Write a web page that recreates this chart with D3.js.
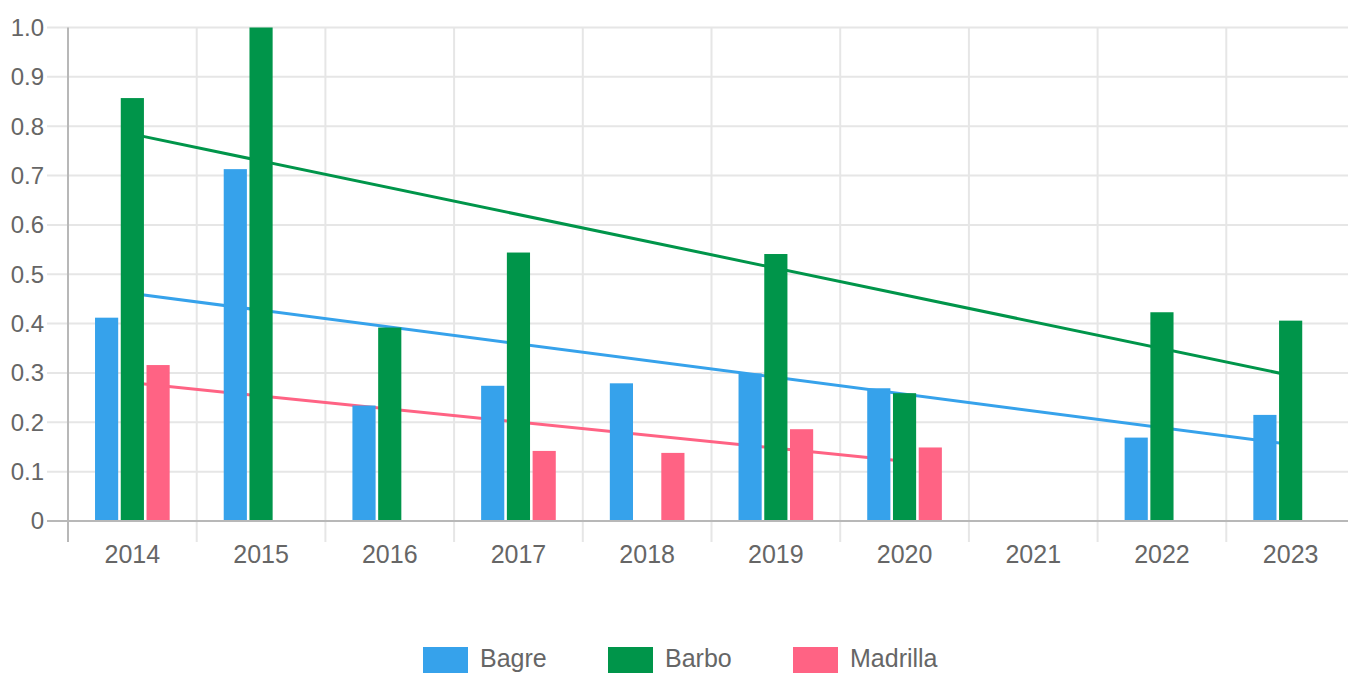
<!DOCTYPE html>
<html>
<head>
<meta charset="utf-8">
<script src="https://cdn.jsdelivr.net/npm/d3@7"></script>
<style>
  html, body { margin: 0; padding: 0; background: #fff; }
  svg { display: block; font-family: "Liberation Sans", Arial, sans-serif; }
</style>
</head>
<body>
<div id="chart"></div>
<script>
const years = ["2014", "2015", "2016", "2017", "2018", "2019", "2020", "2021", "2022", "2023"]
const seriesNames = ["Bagre", "Barbo", "Madrilla"]
const colors = ["#36a2eb", "#00954a", "#ff6384"]

const bagre    = [0.412, 0.713, 0.234, 0.274, 0.279, 0.299, 0.269, null, 0.169, 0.215]
const barbo    = [0.857, 1.0, 0.392, 0.544, null, 0.541, 0.259, null, 0.423, 0.406]
const madrilla = [0.316, null, null, 0.142, 0.138, 0.186, 0.149, null, null, null]

// trend lines, end points
const bagreTrend    = [["2014", 0.461], ["2023", 0.155]]
const barboTrend    = [["2014", 0.784], ["2023", 0.295]]
const madrillaTrend = [["2014", 0.280], ["2020", 0.121]]

const yTicks = [0, 0.1, 0.2, 0.3, 0.4, 0.5, 0.6, 0.7, 0.8, 0.9, 1.0]

const W = 1348, H = 673
const plotLeft = 68, plotTop = 27.5, plotBottom = 521, catW = 128.7

const svg = d3.select("#chart").append("svg")
  .attr("width", W)
  .attr("height", H)

const x = d3.scaleBand().domain(years).range([plotLeft, plotLeft + catW * years.length])
const bw = x.bandwidth()
const x1 = d3.scaleBand().domain(seriesNames)
  .range([bw * 0.2, bw * 0.8])
  .paddingInner(0.1)
  .paddingOuter(0.05)
const y = d3.scaleLinear().domain([0, 1]).range([plotBottom, plotTop])

// grid
const grid = svg.append("g")
grid.selectAll("line.h")
  .data(yTicks.slice(1))
  .join("line")
    .attr("class", "h")
    .attr("x1", plotLeft - 21).attr("x2", W)
    .attr("y1", d => y(d)).attr("y2", d => y(d))
    .attr("stroke", "#e6e6e6")
    .attr("stroke-width", 2)
grid.selectAll("line.v")
  .data(years)
  .join("line")
    .attr("class", "v")
    .attr("x1", d => x(d) + bw)
    .attr("x2", d => x(d) + bw)
    .attr("y1", plotTop).attr("y2", plotBottom + 21)
    .attr("stroke", "#e6e6e6")
    .attr("stroke-width", 2)

// trend lines
const trends = [bagreTrend, barboTrend, madrillaTrend]
const line = d3.line()
  .x(d => x(d[0]) + bw / 2)
  .y(d => y(d[1]))
svg.append("g").selectAll("path")
  .data(trends)
  .join("path")
    .attr("d", line)
    .attr("fill", "none")
    .attr("stroke", (d, i) => colors[i])
    .attr("stroke-width", 3)

// bars
const values = [bagre, barbo, madrilla]
const groups = svg.append("g").selectAll("g")
  .data(years)
  .join("g")
    .attr("transform", d => `translate(${x(d)},0)`)
groups.selectAll("rect")
  .data((d, i) => seriesNames.map((s, k) => ({ s, k, v: values[k][i] })).filter(e => e.v != null))
  .join("rect")
    .attr("x", d => x1(d.s))
    .attr("width", x1.bandwidth())
    .attr("y", d => y(d.v))
    .attr("height", d => plotBottom - y(d.v))
    .attr("fill", d => colors[d.k])

// axis lines
svg.append("line")
  .attr("x1", plotLeft - 21).attr("x2", W)
  .attr("y1", plotBottom).attr("y2", plotBottom)
  .attr("stroke", "#b8b8b8").attr("stroke-width", 2)
svg.append("line")
  .attr("x1", plotLeft).attr("x2", plotLeft)
  .attr("y1", plotTop).attr("y2", plotBottom + 21)
  .attr("stroke", "#b8b8b8").attr("stroke-width", 2)

// tick labels
svg.append("g").selectAll("text")
  .data(yTicks)
  .join("text")
    .attr("x", plotLeft - 24)
    .attr("y", d => y(d))
    .attr("dy", "0.35em")
    .attr("text-anchor", "end")
    .attr("font-size", 24)
    .attr("fill", "#666")
    .text(d => d === 0 ? "0" : d.toFixed(1))

svg.append("g").selectAll("text")
  .data(years)
  .join("text")
    .attr("x", d => x(d) + bw / 2)
    .attr("y", 563)
    .attr("text-anchor", "middle")
    .attr("font-size", 25)
    .attr("fill", "#666")
    .text(d => d)

// legend
const legendX = [423, 608, 793]
const legend = svg.append("g").selectAll("g")
  .data(seriesNames)
  .join("g")
    .attr("transform", (d, i) => `translate(${legendX[i]},647)`)
legend.append("rect")
  .attr("width", 45)
  .attr("height", 27)
  .attr("fill", (d, i) => colors[i])
legend.append("text")
  .attr("x", 57)
  .attr("y", 20)
  .attr("font-size", 25)
  .attr("fill", "#666")
  .text(d => d)
</script>
</body>
</html>
